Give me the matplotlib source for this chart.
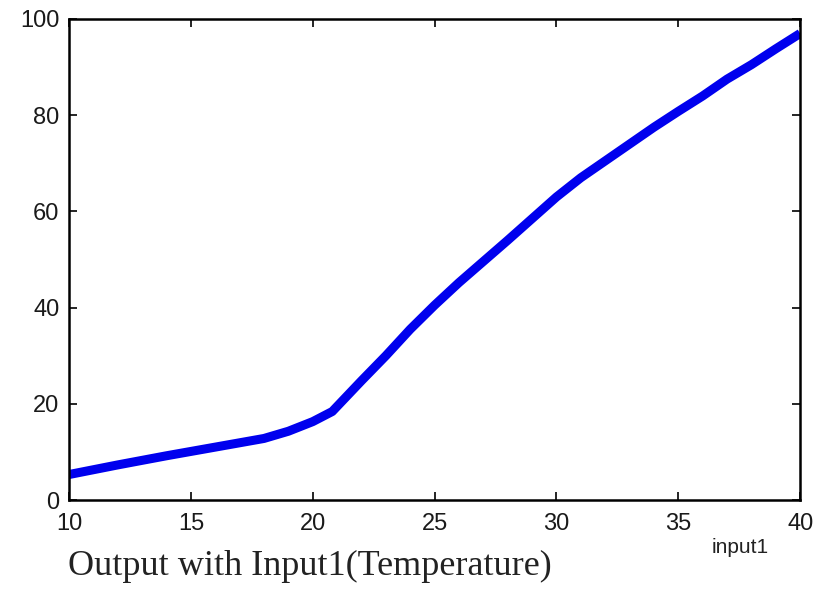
import matplotlib
matplotlib.use("Agg")
import matplotlib.pyplot as plt

# temperature (input1) vs output
temperature = [10, 12, 14, 16, 17, 18, 19, 20, 20.8, 22, 23, 24, 25, 26, 27,
               28, 29, 30, 31, 32, 33, 34, 35, 36, 37, 38, 39, 40]
output = [5.3, 7.3, 9.2, 11, 11.9, 12.8, 14.3, 16.3, 18.4, 24.8, 30, 35.5, 40.5, 45.2, 49.6,
          54, 58.5, 63, 67, 70.5, 74, 77.5, 80.8, 84, 87.5, 90.5, 93.8, 97]

xticks = [10, 15, 20, 25, 30, 35, 40]
yticks = [0, 20, 40, 60, 80, 100]

fig = plt.figure(figsize=(8.16, 5.9), dpi=100)
ax = fig.add_axes([0.0846, 0.1525, 0.896, 0.8153])

ax.plot(temperature, output, color='#0000ee', linewidth=6.5, solid_capstyle='butt')

ax.set_xlim(10, 40)
ax.set_ylim(0, 100)
ax.set_xticks(xticks)
ax.set_yticks(yticks)
ax.tick_params(direction='in', length=6, width=1.2, top=True, right=True,
               labelsize=17, pad=7, labelcolor='#1a1a1a')
ax.tick_params(axis='x', pad=9)
for lbl in ax.get_xticklabels() + ax.get_yticklabels():
    lbl.set_fontfamily('Liberation Sans')
for s in ax.spines.values():
    s.set_linewidth(1.8)

fig.text(0.907, 0.072, 'input1', fontsize=15, family='Liberation Sans',
         ha='center', va='center', color='#222222')
fig.text(0.083, 0.025, 'Output with Input1(Temperature)', fontsize=26,
         family='Liberation Serif', ha='left', va='baseline', color='#222222')

fig.savefig('out.png', dpi=100)
